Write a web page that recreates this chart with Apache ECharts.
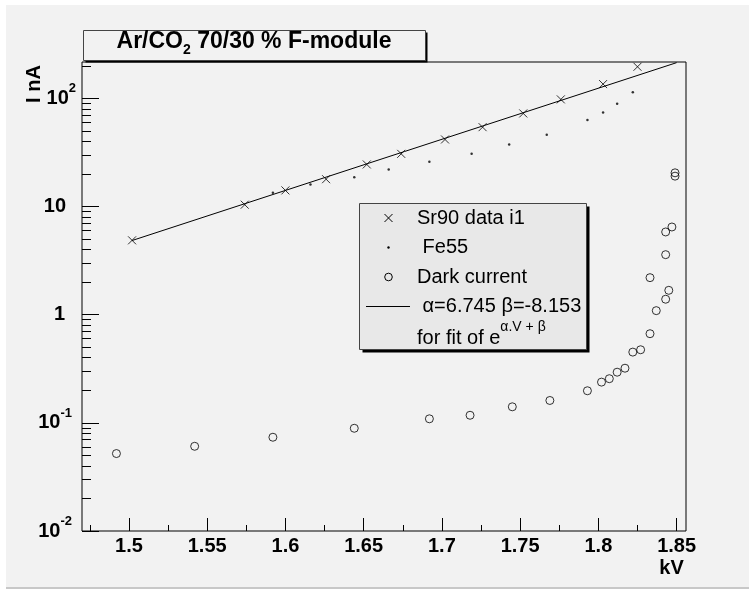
<!DOCTYPE html>
<html>
<head>
<meta charset="utf-8">
<script src="https://cdn.jsdelivr.net/npm/echarts@6.0.0/dist/echarts.min.js"></script>
<style>
  body { margin: 0; background: #fff; }
  #pad { position: absolute; left: 6px; top: 5px; width: 743px; height: 582px; background: #f2f2f2; border-bottom: 2px solid #c8c8c8; }
  #chart { position: absolute; left: 0; top: 0; width: 752px; height: 590px; }
</style>
</head>
<body>
<div id="pad"></div>
<div id="chart"></div>
<script>
// Sr90 source, current i1 (nA) against HV (kV)
var sr90V = [1.502, 1.574, 1.600, 1.626, 1.652, 1.674, 1.702, 1.726, 1.752, 1.776, 1.803, 1.825];
var sr90I = [4.87, 10.4, 14.1, 17.9, 24.5, 30.7, 41.7, 54.2, 72.6, 97.9, 135.6, 196];

// Fe55 source
var fe55V = [1.592, 1.616, 1.644, 1.666, 1.692, 1.719, 1.743, 1.767, 1.793, 1.803, 1.812, 1.822];
var fe55I = [13.4, 16.0, 18.7, 22.0, 25.9, 30.7, 37.5, 46.0, 63.0, 74.2, 89.1, 114];

// dark current
var darkV = [1.492, 1.542, 1.592, 1.644, 1.692, 1.718, 1.745, 1.769, 1.793, 1.802, 1.807, 1.812, 1.817,
             1.822, 1.827, 1.833, 1.837, 1.843, 1.845, 1.833, 1.843, 1.843, 1.847, 1.849, 1.849];
var darkI = [0.052, 0.0607, 0.0736, 0.0891, 0.109, 0.1175, 0.1407, 0.161, 0.198, 0.238, 0.256, 0.294, 0.320,
             0.451, 0.474, 0.667, 1.09, 1.39, 1.68, 2.20, 3.59, 5.82, 6.47, 20.5, 19.1];

// fit line, ends
var fitV = [1.502, 1.85];
var fitI = [4.85, 214];

// axis ticks
var xTicks = [1.5, 1.55, 1.6, 1.65, 1.7, 1.75, 1.8, 1.85];
var xMinorTicks = [1.475, 1.525, 1.575, 1.625, 1.675, 1.725, 1.775, 1.825];
var yTicks = [0.01, 0.1, 1, 10, 100];
var yMinorTicks = [0.02, 0.03, 0.04, 0.05, 0.06, 0.07, 0.08, 0.09,
                   0.2, 0.3, 0.4, 0.5, 0.6, 0.7, 0.8, 0.9,
                   2, 3, 4, 5, 6, 7, 8, 9,
                   20, 30, 40, 50, 60, 70, 80, 90, 200];

var legendNames = ['Sr90 data i1', ' Fe55', 'Dark current', ' \u03b1=6.745 \u03b2=-8.153'];

var FONT = '"Liberation Sans", Arial, Helvetica, sans-serif';
var xMin = 1.47, xMax = 1.856, yMin = 0.01, yMax = 217;

function pairs(xs, ys) {
  return xs.map(function (x, i) { return [x, ys[i]]; });
}

var myChart = echarts.init(document.getElementById('chart'));

var rowY = [218, 247.5, 277, 306.5];
var legendGraphics = [
  { type: 'rect', z: 100, shape: { x: 362.5, y: 206.5, width: 227, height: 146 }, style: { fill: '#000' } },
  { type: 'rect', z: 101, shape: { x: 359.5, y: 203.5, width: 227, height: 146 }, style: { fill: '#e8e8e8', stroke: '#444', lineWidth: 1 } },
  // legend icons
  { type: 'line', z: 102, shape: { x1: 384.5, y1: rowY[0] - 4, x2: 392.5, y2: rowY[0] + 4 }, style: { stroke: '#000', lineWidth: 1 } },
  { type: 'line', z: 102, shape: { x1: 392.5, y1: rowY[0] - 4, x2: 384.5, y2: rowY[0] + 4 }, style: { stroke: '#000', lineWidth: 1 } },
  { type: 'circle', z: 102, shape: { cx: 388.5, cy: rowY[1], r: 1.2 }, style: { fill: '#000' } },
  { type: 'circle', z: 102, shape: { cx: 388.5, cy: rowY[2], r: 3.8 }, style: { fill: 'none', stroke: '#000', lineWidth: 1 } },
  { type: 'line', z: 102, shape: { x1: 366, y1: rowY[3], x2: 410, y2: rowY[3] }, style: { stroke: '#000', lineWidth: 1 } }
];
legendNames.forEach(function (name, i) {
  legendGraphics.push({
    type: 'text', z: 102, x: 417, y: rowY[i],
    style: { text: name, font: '20px ' + FONT, fill: '#000', verticalAlign: 'middle', align: 'left' }
  });
});
legendGraphics.push({
  type: 'text', z: 102, x: 417, y: 334,
  style: {
    text: '{n|for fit of e}{s|\u03b1.V + \u03b2}',
    verticalAlign: 'middle', align: 'left',
    rich: {
      n: { fontFamily: FONT, fontSize: 20, lineHeight: 28, fill: '#000', verticalAlign: 'bottom' },
      s: { fontFamily: FONT, fontSize: 14, lineHeight: 14, fill: '#000', verticalAlign: 'top' }
    }
  }
});

var option = {
  animation: false,
  grid: {
    left: 82, top: 62, right: 66, bottom: 59,
    show: true, borderColor: '#000', borderWidth: 1, backgroundColor: 'transparent'
  },
  xAxis: [
    {
      type: 'value', min: xMin, max: xMax, position: 'bottom',
      axisLine: { show: false },
      splitLine: { show: false },
      axisTick: { inside: true, length: 13, customValues: xTicks, lineStyle: { color: '#000' } },
      axisLabel: {
        customValues: xTicks, margin: 5, color: '#000',
        fontFamily: FONT, fontSize: 20, fontWeight: 'bold'
      }
    },
    {
      type: 'value', min: xMin, max: xMax, position: 'bottom',
      axisLine: { show: false },
      splitLine: { show: false },
      axisTick: { inside: true, length: 6, customValues: xMinorTicks, lineStyle: { color: '#000' } },
      axisLabel: { show: false }
    }
  ],
  yAxis: [
    {
      type: 'log', logBase: 10, min: yMin, max: yMax, position: 'left',
      axisLine: { show: false },
      splitLine: { show: false },
      axisTick: { inside: true, length: 17, customValues: yTicks, lineStyle: { color: '#000' } },
      axisLabel: {
        customValues: yTicks, margin: 6,
        formatter: function (v) {
          var e = Math.round(Math.log(v) / Math.LN10);
          if (e === 0) return '{p1|1}';
          if (e === 1) return '{p10|10}';
          if (e < 0) return '{b|10}{sn|' + e + '}';
          return '{b|10}{s|' + e + '}';
        },
        rich: {
          b: { fontFamily: FONT, fontSize: 20, fontWeight: 'bold', color: '#000', lineHeight: 32 },
          p1: { fontFamily: FONT, fontSize: 20, fontWeight: 'bold', color: '#000', lineHeight: 32, padding: [0, 11, 0, 0] },
          p10: { fontFamily: FONT, fontSize: 20, fontWeight: 'bold', color: '#000', lineHeight: 32, padding: [0, 10, 0, 0] },
          s: { fontFamily: FONT, fontSize: 13, fontWeight: 'bold', color: '#000', lineHeight: 12, verticalAlign: 'top' },
          sn: { fontFamily: FONT, fontSize: 13, fontWeight: 'bold', color: '#000', lineHeight: 12, verticalAlign: 'top', padding: [0, 4, 0, 0] }
        }
      }
    },
    {
      type: 'log', logBase: 10, min: yMin, max: yMax, position: 'left',
      axisLine: { show: false },
      splitLine: { show: false },
      axisTick: { inside: true, length: 9, customValues: yMinorTicks, lineStyle: { color: '#000' } },
      axisLabel: { show: false }
    }
  ],
  graphic: [
    // title box
    { type: 'rect', z: 100, shape: { x: 85.5, y: 32.5, width: 342, height: 30 }, style: { fill: '#000' } },
    { type: 'rect', z: 101, shape: { x: 83.5, y: 30.5, width: 342, height: 30 }, style: { fill: '#f2f2f2', stroke: '#444', lineWidth: 1 } },
    {
      type: 'text', z: 102, x: 254, y: 42,
      style: {
        text: '{b|Ar/CO}{sub|2}{b| 70/30 % F-module}',
        align: 'center', verticalAlign: 'middle',
        rich: {
          b: { fontFamily: FONT, fontSize: 23, fontWeight: 'bold', fill: '#000', lineHeight: 24, verticalAlign: 'top' },
          sub: { fontFamily: FONT, fontSize: 14, fontWeight: 'bold', fill: '#000', lineHeight: 16, verticalAlign: 'top', padding: [13, 0, 0, 0] }
        }
      }
    },
    // axis titles
    {
      type: 'text', z: 102, x: 34, y: 84, rotation: Math.PI / 2,
      style: { text: 'I nA', font: 'bold 20px ' + FONT, fill: '#000', align: 'center', verticalAlign: 'middle' }
    },
    {
      type: 'text', z: 102, x: 671.5, y: 568,
      style: { text: 'kV', font: 'bold 20px ' + FONT, fill: '#000', align: 'center', verticalAlign: 'middle' }
    }
  ].concat(legendGraphics),
  series: [
    {
      name: legendNames[0], type: 'scatter', data: pairs(sr90V, sr90I),
      symbol: 'path://M0,0L10,10M10,0L0,10', symbolSize: 8,
      itemStyle: { color: 'none', borderColor: '#000', borderWidth: 1 }, z: 4
    },
    {
      name: legendNames[1], type: 'scatter', data: pairs(fe55V, fe55I),
      symbol: 'circle', symbolSize: 2.5,
      itemStyle: { color: '#000' }, z: 4
    },
    {
      name: legendNames[2], type: 'scatter', data: pairs(darkV, darkI),
      symbol: 'circle', symbolSize: 8,
      itemStyle: { color: 'none', borderColor: '#000', borderWidth: 1 }, z: 4
    },
    {
      name: legendNames[3], type: 'line', data: pairs(fitV, fitI),
      showSymbol: false, symbol: 'none',
      lineStyle: { color: '#000', width: 1 }, z: 3
    }
  ]
};

myChart.setOption(option);
</script>
</body>
</html>
